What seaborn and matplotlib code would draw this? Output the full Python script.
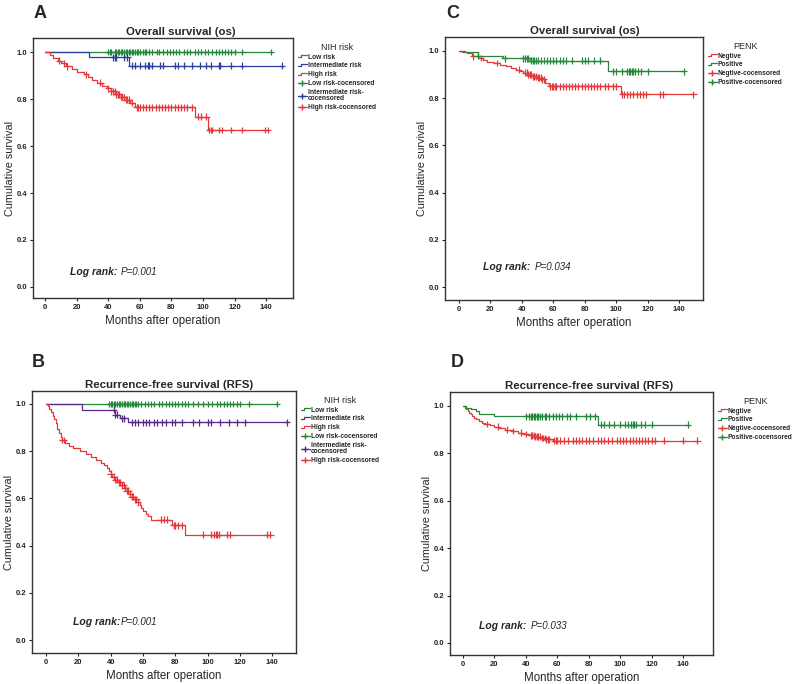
import numpy as np
import pandas as pd
import matplotlib
matplotlib.use("Agg")
import matplotlib.pyplot as plt
import seaborn as sns
from matplotlib.lines import Line2D
from matplotlib.legend_handler import HandlerBase

# ---------------- data ----------------
# Panel A: overall survival by NIH risk
a_low_t, a_low_s = [], []
a_low_c = [40, 41, 42, 44, 45, 46, 47, 48, 49, 50, 51, 52, 53, 54, 55, 56, 57, 58, 59, 60,
           62, 63, 64, 66, 68, 71, 72, 75, 77, 79, 81, 83, 85, 88, 90, 92, 95, 97, 99, 101,
           103, 106, 108, 110, 112, 114, 116, 118, 120, 125, 143]
a_mid_t = [28, 53]
a_mid_s = [0.977, 0.942]
a_mid_c = [43, 44, 45, 50, 52, 55, 57, 60, 63, 65, 66, 68, 73, 75, 82, 84, 88, 93, 98,
           102, 105, 110, 111, 118, 125, 150]
a_high_t = [3, 5, 8, 10, 13, 17, 20, 25, 27, 30, 33, 36, 39, 42, 45, 48, 51, 54, 57, 95, 103]
a_high_s = [0.988, 0.976, 0.964, 0.952, 0.940, 0.929, 0.917, 0.905, 0.893, 0.881, 0.869,
            0.857, 0.845, 0.833, 0.821, 0.809, 0.797, 0.785, 0.765, 0.725, 0.668]
a_high_c = [9, 12, 14, 26, 35, 40, 42, 43, 44, 45, 46, 47, 48, 49, 50, 51, 52, 53, 55, 58,
            59, 60, 62, 64, 66, 68, 70, 72, 74, 76, 78, 80, 82, 84, 86, 88, 90, 93, 97, 99,
            102, 104, 105, 106, 110, 112, 118, 125, 139, 141]

# Panel B: recurrence-free survival by NIH risk
b_low_t, b_low_s = [], []
b_low_c = [39, 40, 41, 42, 43, 44, 45, 46, 47, 48, 49, 50, 51, 52, 53, 54, 55, 56, 57, 59,
           61, 63, 65, 67, 70, 72, 74, 76, 78, 80, 82, 84, 86, 88, 91, 94, 97, 100, 103,
           106, 108, 110, 112, 114, 116, 118, 120, 126, 143]
b_mid_t = [22, 43, 46, 51]
b_mid_s = [0.975, 0.955, 0.940, 0.922]
b_mid_c = [42, 43, 44, 47, 48, 53, 55, 57, 60, 62, 64, 67, 69, 72, 74, 78, 80, 84, 91, 95,
           100, 102, 108, 113, 118, 123, 149]
b_high_t = [1, 2, 3, 4, 5, 6, 7, 8, 9, 10, 12, 14, 17, 21, 25, 28, 31, 34, 36, 38, 39, 40,
            41, 43, 45, 47, 49, 50, 52, 53, 55, 57, 58, 59, 60, 62, 63, 65, 78, 86]
b_high_s = [0.99, 0.98, 0.965, 0.95, 0.935, 0.92, 0.895, 0.875, 0.86, 0.847, 0.835, 0.823,
            0.812, 0.80, 0.788, 0.776, 0.764, 0.752, 0.740, 0.728, 0.716, 0.704, 0.692,
            0.680, 0.668, 0.656, 0.644, 0.632, 0.620, 0.608, 0.596, 0.584, 0.572, 0.560,
            0.548, 0.536, 0.524, 0.510, 0.486, 0.447]
b_high_c = [10, 11, 40, 42, 43, 44, 45, 46, 47, 48, 49, 50, 51, 52, 53, 54, 55, 56, 57, 71,
            73, 75, 79, 80, 82, 84, 97, 102, 104, 105, 106, 107, 112, 114, 137, 139]

# Panel C: overall survival by PENK
c_neg_t = [2, 5, 8, 12, 15, 18, 22, 26, 30, 33, 36, 39, 41, 44, 47, 50, 53, 55, 57, 103]
c_neg_s = [0.995, 0.99, 0.977, 0.97, 0.963, 0.955, 0.949, 0.942, 0.935, 0.928, 0.921,
           0.914, 0.907, 0.900, 0.893, 0.886, 0.879, 0.865, 0.851, 0.817]
c_neg_c = [9, 14, 24, 38, 42, 43, 44, 45, 46, 47, 48, 49, 50, 51, 52, 53, 54, 58, 59, 60,
           61, 62, 64, 66, 68, 70, 72, 74, 76, 78, 80, 82, 84, 86, 88, 90, 93, 95, 98, 100,
           104, 105, 107, 109, 111, 113, 115, 117, 119, 128, 130, 149]
c_pos_t = [4, 12, 28, 45, 95]
c_pos_s = [0.994, 0.979, 0.969, 0.958, 0.914]
c_pos_c = [12, 29, 41, 42, 43, 44, 46, 47, 48, 49, 50, 52, 54, 56, 58, 60, 62, 64, 66, 68,
           72, 78, 80, 82, 86, 90, 98, 100, 104, 107, 108, 109, 110, 111, 112, 114, 116,
           120, 143]

# Panel D: recurrence-free survival by PENK
d_neg_t = [1, 2, 3, 4, 5, 6, 7, 8, 10, 12, 14, 17, 20, 23, 27, 31, 35, 38, 42, 46, 50, 53, 57]
d_neg_s = [0.993, 0.986, 0.979, 0.972, 0.965, 0.958, 0.951, 0.944, 0.937, 0.930, 0.924,
           0.918, 0.912, 0.906, 0.900, 0.894, 0.888, 0.882, 0.876, 0.870, 0.865, 0.860, 0.853]
d_neg_c = [15, 22, 28, 32, 37, 40, 43, 44, 45, 46, 47, 48, 49, 50, 51, 52, 53, 54, 55, 58,
           59, 60, 62, 64, 67, 70, 72, 74, 76, 78, 80, 83, 86, 88, 90, 92, 95, 98, 100, 102,
           104, 106, 108, 110, 112, 114, 116, 118, 120, 122, 128, 140, 149]
d_pos_t = [2, 5, 8, 10, 20, 86]
d_pos_s = [0.993, 0.986, 0.979, 0.966, 0.956, 0.921]
d_pos_c = [40, 42, 43, 44, 45, 46, 47, 48, 49, 50, 52, 53, 55, 57, 59, 61, 63, 66, 68, 72,
           78, 81, 84, 88, 90, 93, 96, 100, 103, 105, 107, 108, 109, 110, 113, 116, 120, 143]

nih_labels = ["Low risk", "Intermediate risk", "High risk"]
nih_cens_labels = ["Low risk-cocensored", "Intermediate risk-\ncocensored", "High risk-cocensored"]
penk_labels = ["Negtive", "Positive"]
penk_cens_labels = ["Negtive-cocensored", "Positive-cocensored"]
p_values = {"A": "P=0.001", "B": "P=0.001", "C": "P=0.034", "D": "P=0.033"}

GREEN = "#23883a"
BLUE = "#2c3f9e"
RED = "#e5383b"
PURPLE = "#5a2a86"


def km_frames(groups):
    """groups: list of (label, event times, survival, censor times)"""
    lines, marks = [], []
    for label, t, s, c in groups:
        end = max(list(t) + list(c))
        xs = [0] + list(t) + [end]
        ys = [1.0] + list(s) + [s[-1] if s else 1.0]
        lines.append(pd.DataFrame({"time": xs, "surv": ys, "group": label}))
        tt = np.array([0] + list(t))
        ss = np.array([1.0] + list(s))
        cy = [ss[np.searchsorted(tt, ci, side="right") - 1] for ci in c]
        marks.append(pd.DataFrame({"time": c, "surv": cy, "group": label}))
    return pd.concat(lines, ignore_index=True), pd.concat(marks, ignore_index=True)


class StepHandler(HandlerBase):
    def create_artists(self, legend, orig, xd, yd, width, height, fontsize, trans):
        x0 = -xd
        y0 = -yd
        xs = [x0, x0 + width * 0.35, x0 + width * 0.35, x0 + width]
        ys = [y0 + height * 0.25, y0 + height * 0.25, y0 + height * 0.75, y0 + height * 0.75]
        ln = Line2D(xs, ys, color=orig.get_color(), lw=0.9, transform=trans)
        return [ln]


sns.set_theme(style="ticks")
plt.rcParams["font.family"] = ["Liberation Sans", "DejaVu Sans"]
plt.rcParams["axes.edgecolor"] = "#333333"
plt.rcParams["axes.linewidth"] = 1.0

fig = plt.figure(figsize=(7.93, 6.84), dpi=100)
W, H = 793, 684

# axes boxes in pixels: left, top, right, bottom
boxes = {"A": (33, 38, 293, 298), "C": (445, 37, 703, 300),
         "B": (32, 391, 296, 653), "D": (450, 392, 713, 655)}
xlims = {"A": (-7.6, 157), "C": (-8.9, 155.3), "B": (-8.7, 154.8), "D": (-8.3, 159.1)}
ylims = {"A": (-0.047, 1.06), "C": (-0.055, 1.059), "B": (-0.055, 1.055), "D": (-0.051, 1.059)}
letters = {"A": (40, 13), "C": (453, 13), "B": (38, 362), "D": (457, 362)}
title_x = {"A": 0.57, "C": 0.54, "B": 0.52, "D": 0.53}
logrank_x = {"A": (15.8, 48), "C": (15.5, 48.4), "B": (16.5, 46.3), "D": (10.2, 43.3)}
logrank_y = {"A": 0.064, "C": 0.086, "B": 0.078, "D": 0.072}
titles = {"A": "Overall survival (os)", "C": "Overall survival (os)",
          "B": "Recurrence-free survival (RFS)", "D": "Recurrence-free survival (RFS)"}

panels = {
    "A": ([(nih_labels[0], a_low_t, a_low_s, a_low_c),
           (nih_labels[1], a_mid_t, a_mid_s, a_mid_c),
           (nih_labels[2], a_high_t, a_high_s, a_high_c)],
          [GREEN, BLUE, RED], nih_cens_labels, "NIH risk"),
    "B": ([(nih_labels[0], b_low_t, b_low_s, b_low_c),
           (nih_labels[1], b_mid_t, b_mid_s, b_mid_c),
           (nih_labels[2], b_high_t, b_high_s, b_high_c)],
          [GREEN, PURPLE, RED], nih_cens_labels, "NIH risk"),
    "C": ([(penk_labels[0], c_neg_t, c_neg_s, c_neg_c),
           (penk_labels[1], c_pos_t, c_pos_s, c_pos_c)],
          [RED, GREEN], penk_cens_labels, "PENK"),
    "D": ([(penk_labels[0], d_neg_t, d_neg_s, d_neg_c),
           (penk_labels[1], d_pos_t, d_pos_s, d_pos_c)],
          [RED, GREEN], penk_cens_labels, "PENK"),
}

for key, (groups, colors, cens_labels, leg_title) in panels.items():
    l, t, r, b = boxes[key]
    ax = fig.add_axes([l / W, 1 - b / H, (r - l) / W, (b - t) / H])
    lines, marks = km_frames(groups)
    order = [g[0] for g in groups]
    pal = dict(zip(order, colors))
    sns.lineplot(data=lines, x="time", y="surv", hue="group", hue_order=order, palette=pal,
                 estimator=None, sort=False, drawstyle="steps-post", linewidth=0.9,
                 legend=False, ax=ax)
    sns.scatterplot(data=marks, x="time", y="surv", hue="group", hue_order=order, palette=pal,
                    marker="+", s=24, linewidth=0.9, legend=False, ax=ax, zorder=3)

    ax.set_xlim(*xlims[key])
    ax.set_ylim(*ylims[key])
    ax.set_xticks(np.arange(0, 141, 20))
    ax.set_yticks(np.arange(0, 1.01, 0.2))
    ax.set_yticklabels([f"{v:.1f}" for v in np.arange(0, 1.01, 0.2)])
    ax.tick_params(labelsize=5.5, length=2.5, width=0.8, pad=1.5, colors="#222222")
    for lab in ax.get_xticklabels() + ax.get_yticklabels():
        lab.set_fontweight("bold")
    ax.set_xlabel("Months after operation", fontsize=8.3, labelpad=3)
    ax.set_ylabel("Cumulative survival", fontsize=7.8, labelpad=1.5)
    ax.set_title(titles[key], fontsize=8.2, fontweight="bold", x=title_x[key], pad=2)

    lx, px = logrank_x[key]
    ax.text(lx, logrank_y[key], "Log rank:", fontsize=7.5, fontstyle="italic",
            fontweight="bold", va="center")
    ax.text(px, logrank_y[key], p_values[key], fontsize=7, fontstyle="italic", va="center")

    handles = [Line2D([], [], color=c) for c in colors]
    handles += [Line2D([], [], color=c, marker="+", markersize=5, lw=0.9) for c in colors]
    labels = order + cens_labels
    hmap = {h: StepHandler() for h in handles[:len(colors)]}
    leg = ax.legend(handles, labels, title=leg_title, loc="upper left",
                    bbox_to_anchor=(1.0, 1.0), frameon=False, fontsize=4.8,
                    title_fontsize=6.5, handlelength=1.4, handletextpad=0.1,
                    labelspacing=0.28, numpoints=1, borderaxespad=0.3,
                    handler_map=hmap)
    for txt in leg.get_texts():
        txt.set_fontweight("bold")
        txt.set_linespacing(0.85)

    fig.text(letters[key][0] / W, 1 - letters[key][1] / H, key, fontsize=13,
             fontweight="bold", ha="center", va="center")

fig.savefig("out.png", dpi=100)
